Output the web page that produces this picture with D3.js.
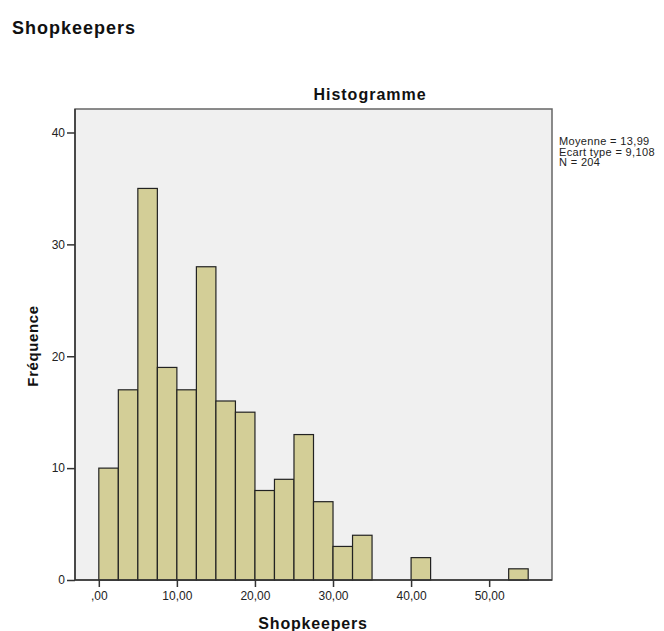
<!DOCTYPE html>
<html><head><meta charset="utf-8">
<script src="https://cdn.jsdelivr.net/npm/d3@7"></script>
<style>body{margin:0;background:#fff;font-family:"Liberation Sans",Arial,sans-serif}</style>
</head><body>
<svg id="c" width="664" height="631"></svg>
<script>
const binStarts = [0, 2.5, 5, 7.5, 10, 12.5, 15, 17.5, 20, 22.5, 25, 27.5, 30, 32.5, 40, 52.5];
const binWidth = 2.5;
const counts = [10, 17, 35, 19, 17, 28, 16, 15, 8, 9, 13, 7, 3, 4, 2, 1];
const xTicks = [0, 10, 20, 30, 40, 50];
const xTickLabels = [",00", "10,00", "20,00", "30,00", "40,00", "50,00"];
const yTicks = [0, 10, 20, 30, 40];
const statsLines = ["Moyenne = 13,99", "Ecart type = 9,108", "N = 204"];

const svg = d3.select("#c");
const L = 75, R = 552, T = 109, B = 580;
const x = d3.scaleLinear().domain([-3.05, 58.05]).range([L, R]);
const y = d3.scaleLinear().domain([0, 42.1]).range([B, T]);

svg.append("text").attr("x", 12).attr("y", 34).text("Shopkeepers")
  .attr("font-weight", "bold").attr("font-size", 18).attr("letter-spacing", 1).attr("fill", "#111");

svg.append("rect").attr("x", L).attr("y", T).attr("width", R - L).attr("height", B - T)
  .attr("fill", "#f0f0f0").attr("stroke", "#666").attr("stroke-width", 1.5);

svg.append("text").attr("x", 370).attr("y", 100).attr("text-anchor", "middle").text("Histogramme")
  .attr("font-weight", "bold").attr("font-size", 16).attr("letter-spacing", 1).attr("fill", "#111");

svg.selectAll("rect.bar").data(binStarts).join("rect").attr("class", "bar")
  .attr("x", d => x(d)).attr("width", d => x(d + binWidth) - x(d))
  .attr("y", (d, i) => y(counts[i])).attr("height", (d, i) => y(0) - y(counts[i]))
  .attr("fill", "#d3ce97").attr("stroke", "#222").attr("stroke-width", 1.2);

const yAxis = d3.axisLeft(y).tickValues(yTicks).tickSize(8).tickPadding(2).tickFormat(d3.format("d"));
const gy = svg.append("g").attr("transform", `translate(${L},0)`).call(yAxis);
gy.select(".domain").attr("stroke", "#333").attr("stroke-width", 1.5).attr("d", `M0,${B}V${T}`);
gy.selectAll(".tick line").attr("stroke", "#333").attr("stroke-width", 1.5);
gy.selectAll(".tick text").attr("font-size", 12).attr("fill", "#222").attr("font-family", "Liberation Sans, Arial");

const xAxis = d3.axisBottom(x).tickValues(xTicks).tickSize(7).tickPadding(4).tickFormat((d, i) => xTickLabels[i]);
const gx = svg.append("g").attr("transform", `translate(0,${B})`).call(xAxis);
gx.select(".domain").attr("stroke", "#333").attr("stroke-width", 1.5).attr("d", `M${L},0H${R}`);
gx.selectAll(".tick line").attr("stroke", "#333").attr("stroke-width", 1.5);
gx.selectAll(".tick text").attr("font-size", 12).attr("fill", "#222").attr("font-family", "Liberation Sans, Arial");

svg.append("text").attr("x", 313).attr("y", 629).attr("text-anchor", "middle").text("Shopkeepers")
  .attr("font-weight", "bold").attr("font-size", 16).attr("letter-spacing", 0.8).attr("fill", "#111");

svg.append("text").attr("transform", "translate(38,346) rotate(-90)").attr("text-anchor", "middle").text("Fréquence")
  .attr("font-weight", "bold").attr("font-size", 15).attr("letter-spacing", 0.6).attr("fill", "#111");

svg.selectAll("text.stat").data(statsLines).join("text").attr("class", "stat")
  .attr("x", 559).attr("y", (d, i) => 145 + i * 10.5).text(d => d)
  .attr("font-size", 11).attr("letter-spacing", 0.35).attr("fill", "#222");
</script>
</body></html>
